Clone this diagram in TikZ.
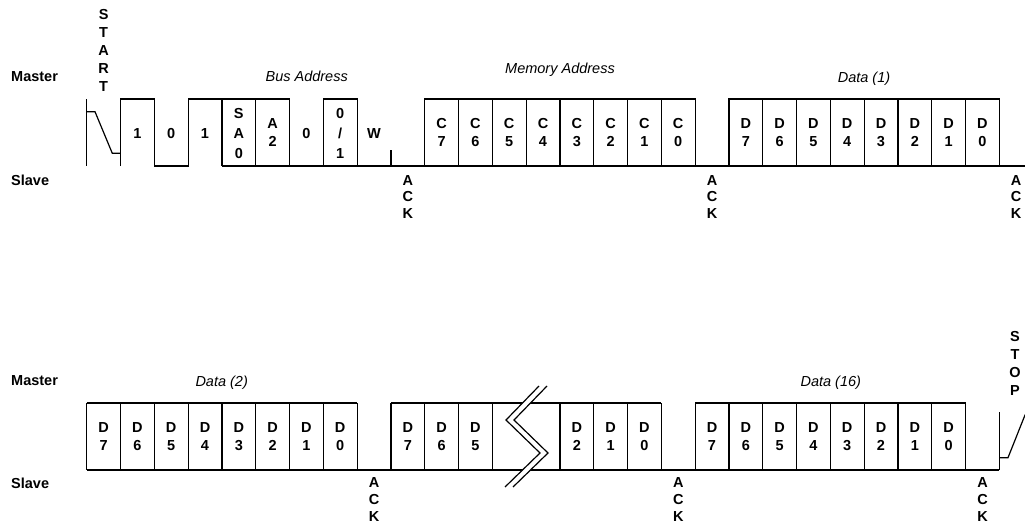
\documentclass[tikz,border=0pt]{standalone}
\usepackage{fontspec}
\setmainfont{Liberation Sans}
\begin{document}
\begin{tikzpicture}[x=1pt,y=-1pt,
  sig/.style={line width=1.2pt, line join=miter},
  bl/.style={font=\fontsize{14.5}{17}\selectfont\bfseries, inner sep=0pt, text height=10.4pt, text depth=0pt, anchor=center},
  lab/.style={font=\fontsize{14.5}{17}\selectfont\bfseries, inner sep=0pt, anchor=west, text height=10.4pt, text depth=0pt},
  ttl/.style={font=\fontsize{14.5}{17}\selectfont\itshape, inner sep=0pt, anchor=center, text height=10.4pt, text depth=0pt}]
\newcommand\vstk[5]{%
  \foreach \c [count=\i from 0] in {#5}{\node[bl, name=#1-\i] at (#2, {#3+\i*#4}) {\c};}}
\useasboundingbox (0,0) rectangle (1025,527);

% ---------- labels ----------
\node[lab] (m1) at (11,76.7) {Master};
\node[lab] (s1) at (11,180) {Slave};
\node[lab] (m2) at (11,380.7) {Master};
\node[lab] (s2) at (11,483.3) {Slave};
\node[ttl] (t1) at (306.7,76.7) {Bus Address};
\node[ttl] (t2) at (560,68.5) {Memory Address};
\node[ttl] (t3) at (864,77) {Data (1)};
\node[ttl] (t4) at (221.7,381.3) {Data (2)};
\node[ttl] (t5) at (830.8,381.3) {Data (16)};

% ---------- top row waveform ----------
\draw[sig] (86.7,99) -- (86.7,166);
\draw[sig] (86.7,111.7) -- (95,111.7) -- (112.3,153.3) -- (120.5,153.3);
\draw[sig] (120.5,166) -- (120.5,99) -- (154.3,99) -- (154.3,166) -- (188.1,166) -- (188.1,99) -- (221.9,99) -- (221.9,166);
\draw[sig] (221.9,99) -- (289.5,99) -- (289.5,166);
\draw[sig] (255.7,99) -- (255.7,166);
\draw[sig] (323.3,166) -- (323.3,99) -- (357.1,99) -- (357.1,166);
\draw[sig] (390.9,150) -- (390.9,166);
\draw[sig] (424.7,166) -- (424.7,99) -- (695.1,99) -- (695.1,166);
\foreach \k in {11,...,17} \draw[sig] ({86.7+\k*33.8},99) -- ({86.7+\k*33.8},166);
\draw[sig] (728.9,166) -- (728.9,99) -- (999.3,99) -- (999.3,166);
\foreach \k in {20,...,26} \draw[sig] ({86.7+\k*33.8},99) -- ({86.7+\k*33.8},166);
\draw[sig] (221.9,166) -- (1030,166);

% top row texts
\vstk{start}{103.6}{14.5}{18}{S,T,A,R,T}
\node[bl] (b1) at (137.4,133.3) {1};
\node[bl] (b2) at (171.2,133.3) {0};
\node[bl] (b3) at (205.0,133.3) {1};
\vstk{sa}{238.8}{113}{20.3}{S,A,0}
\vstk{a2}{272.6}{123.5}{18}{A,2}
\node[bl] (b6) at (306.4,133.3) {0};
\node[bl] (r0) at (340.2,113) {0};
\node[bl] (r1) at (340.2,133.3) {/};
\node[bl] (r2) at (340.2,153.6) {1};
\node[bl] (bw) at (374.0,133.3) {W};
\foreach \n [count=\j from 0] in {7,6,5,4,3,2,1,0}{
  \vstk{c\n}{441.6+\j*33.8}{123.5}{18}{C,\n}
  \vstk{da\n}{745.8+\j*33.8}{123.5}{18}{D,\n}
}
\vstk{ack1}{407.8}{180}{16.7}{A,C,K}
\vstk{ack2}{712.0}{180}{16.7}{A,C,K}
\vstk{ack3}{1016.2}{180}{16.7}{A,C,K}

% ---------- bottom row waveform ----------
\draw[sig] (86.7,470) -- (999.3,470);
\draw[sig] (86.7,403) -- (357.1,403);
\draw[sig] (390.9,403) -- (661.3,403);
\draw[sig] (695.1,403) -- (965.5,403);
\foreach \k in {0,...,12,14,15,16,17,18,...,26} \draw[sig] ({86.7+\k*33.8},403) -- ({86.7+\k*33.8},470);
% break symbol
\fill[white] (505,487) -- (540,453) -- (506,420) -- (539,386) -- (547,386) -- (514,420) -- (548,453) -- (513,487) -- cycle;
\draw[sig] (505,487) -- (540,453) -- (506,420) -- (539,386);
\draw[sig] (513,487) -- (548,453) -- (514,420) -- (547,386);
% stop
\draw[sig] (999.3,412) -- (999.3,470);
\draw[sig] (999.3,457.7) -- (1008,457.7) -- (1025,415) -- (1035,415);

% bottom row texts
\foreach \n [count=\j from 0] in {7,6,5,4,3,2,1,0}{
  \vstk{db\n}{103.6+\j*33.8}{427.5}{18}{D,\n}
  \vstk{dd\n}{712.0+\j*33.8}{427.5}{18}{D,\n}
}
\vstk{dc7}{407.8}{427.5}{18}{D,7}
\vstk{dc6}{441.6}{427.5}{18}{D,6}
\vstk{dc5}{475.4}{427.5}{18}{D,5}
\vstk{dc2}{576.8}{427.5}{18}{D,2}
\vstk{dc1}{610.6}{427.5}{18}{D,1}
\vstk{dc0}{644.4}{427.5}{18}{D,0}
\vstk{stop}{1015}{336}{18}{S,T,O,P}
\vstk{ack4}{374.0}{482.7}{16.7}{A,C,K}
\vstk{ack5}{678.4}{482.7}{16.7}{A,C,K}
\vstk{ack6}{982.6}{482.7}{16.7}{A,C,K}
\end{tikzpicture}
\end{document}
